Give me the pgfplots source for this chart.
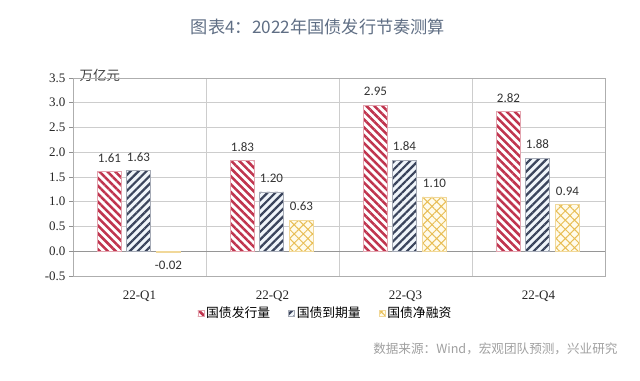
\documentclass[border=0pt]{standalone}
\usepackage{fontspec}
\setmainfont{Liberation Serif}
\newfontfamily\cjk{Noto Sans CJK SC}
\newfontfamily\calfont{Carlito}
\usepackage{pgfplots}
\pgfplotsset{compat=1.18}
\usetikzlibrary{patterns.meta}
\definecolor{cred}{RGB}{192,52,78}
\definecolor{cnavy}{RGB}{58,68,92}
\definecolor{cyel}{RGB}{232,190,85}
\definecolor{cgrid}{RGB}{205,205,205}
\definecolor{ctitle}{RGB}{95,110,132}
\definecolor{csrc}{RGB}{160,160,160}
\definecolor{czero}{RGB}{150,150,150}
\begin{document}
\begin{tikzpicture}
\useasboundingbox (0,0) rectangle (640bp,381bp);
\node[font=\cjk\fontsize{17.2bp}{20bp}\selectfont, text=ctitle] at (318bp,354bp) {图表4：2022年国债发行节奏测算};
\node[font=\cjk\fontsize{12.6bp}{14bp}\selectfont, text=csrc, anchor=east] at (621bp,32bp) {数据来源：Wind，宏观团队预测，兴业研究};
\node[font=\cjk\fontsize{13.5bp}{14bp}\selectfont, text=black!75, anchor=west] at (76bp,306bp) {万亿元};
\begin{axis}[
  at={(73bp,105bp)}, anchor=south west, scale only axis,
  width=532bp, height=198bp,
  xmin=0.5, xmax=4.5, ymin=-0.5, ymax=3.5,
  ytick={-0.5,0,0.5,1,1.5,2,2.5,3,3.5},
  yticklabel style={/pgf/number format/fixed, /pgf/number format/fixed zerofill, /pgf/number format/precision=1, /pgf/number format/assume math mode=true, font=\fontsize{13bp}{14bp}\selectfont, text=black!85},
  xtick={1,2,3,4},
  xticklabels={22-Q1,22-Q2,22-Q3,22-Q4},
  xticklabel style={font=\fontsize{13bp}{14bp}\selectfont, text=black!85, yshift=-7bp},
  minor xtick={1.5,2.5,3.5},
  xminorgrids, ymajorgrids,
  grid style={cgrid, line width=0.8bp},
  minor grid style={cgrid, line width=0.8bp},
  axis line style={cgrid!85!black, line width=0.8bp},
  x tick style={draw=none},
  minor x tick style={draw=none},
  y tick style={cgrid!70!black, line width=0.8bp},
  tick align=outside, major tick length=4bp,
  ytick pos=left,
  extra y ticks={0}, extra y tick labels={},
  extra y tick style={ymajorgrids=true, grid style={czero, line width=0.9bp}},
  ybar=0pt, bar width=24bp,
  legend image code/.code={\draw[#1, line width=0.6bp] (0bp,-3bp) rectangle (6bp,3bp);},
  legend style={at={(0.4746,-0.187)}, anchor=center, draw=none, fill=none,
    legend columns=3, font=\cjk\fontsize{12.8bp}{14bp}\selectfont,
    /tikz/every even column/.append style={column sep=16bp},
    /tikz/every odd column/.append style={column sep=0bp}},
  nodes near coords={\pgfmathprintnumber[fixed,fixed zerofill,precision=2,assume math mode=true]{\pgfplotspointmeta}},
  nodes near coords style={font=\calfont\fontsize{13bp}{14bp}\selectfont, text=black!80, inner ysep=9bp},
]
\addplot[bar shift=-30bp, draw=cred!45, line width=0.6bp, fill=white,
  postaction={pattern={Lines[angle=-45,distance=5.6bp,line width=2.5bp]}, pattern color=cred}]
  coordinates {(1,1.61) (2,1.83) (3,2.95) (4,2.82)};
\addlegendentry{国债发行量}
\addplot[bar shift=-1bp, draw=cnavy!45, line width=0.6bp, fill={rgb,255:red,240;green,245;blue,250},
  postaction={pattern={Lines[angle=45,distance=5.6bp,line width=2.2bp]}, pattern color=cnavy}]
  coordinates {(1,1.63) (2,1.20) (3,1.84) (4,1.88)};
\addlegendentry{国债到期量}
\addplot[bar shift=29bp, draw=cyel!60, line width=0.6bp, fill={rgb,255:red,255;green,251;blue,235},
  postaction={pattern={Hatch[angle=45,distance=6.5bp,line width=1bp]}, pattern color=cyel}]
  coordinates {(1,-0.02) (2,0.63) (3,1.10) (4,0.94)};
\addlegendentry{国债净融资}
\end{axis}
\end{tikzpicture}
\end{document}
